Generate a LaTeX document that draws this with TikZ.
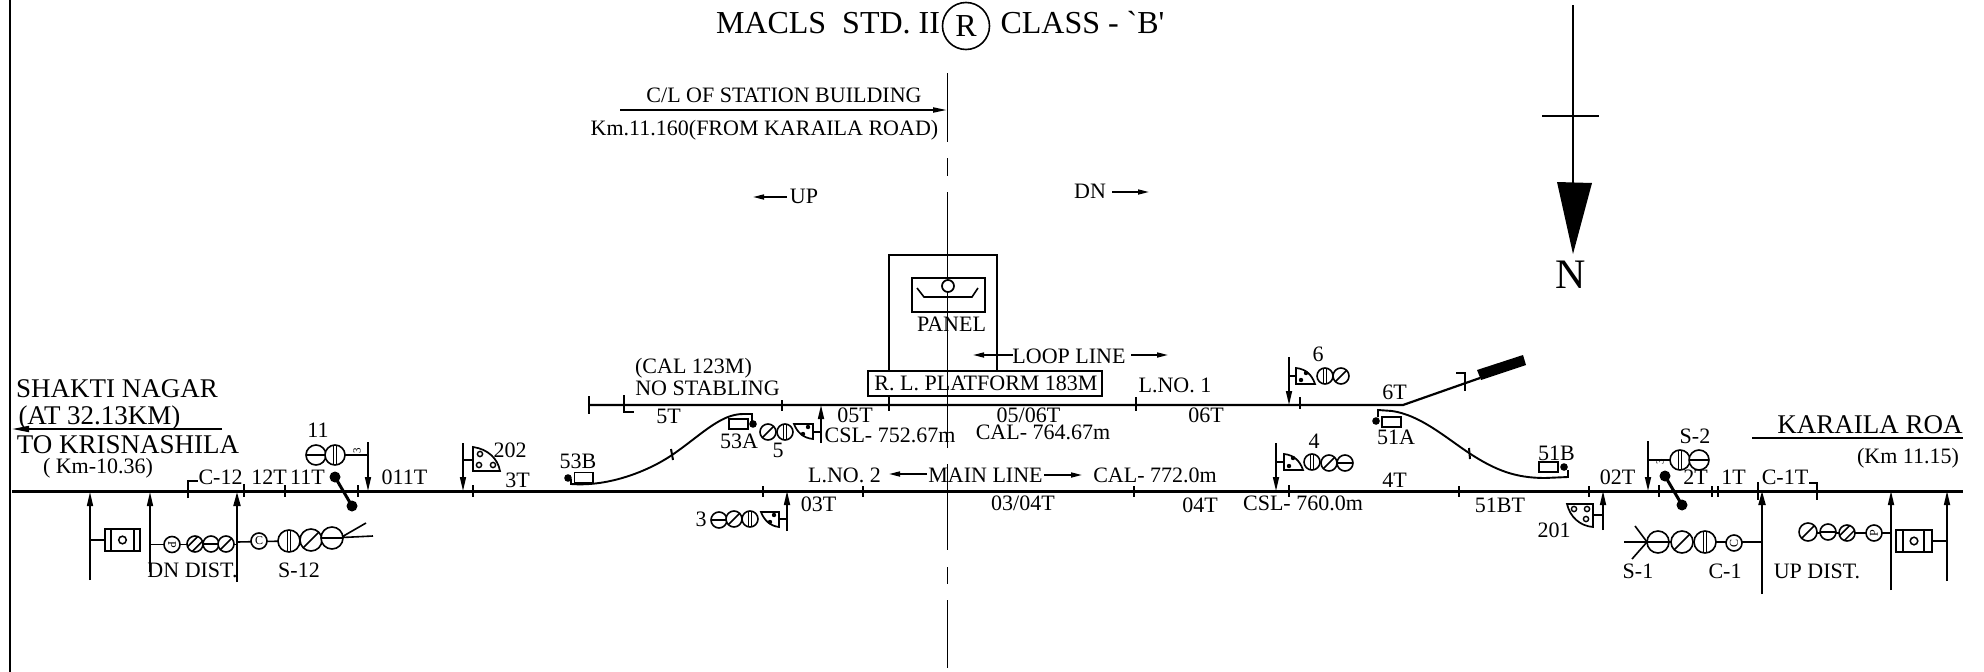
\documentclass[tikz,border=0pt]{standalone}
\usepackage{fontspec}
\setmainfont{Liberation Serif}
\newfontfamily\plainf{Liberation Serif}
\usetikzlibrary{arrows.meta}
\tikzset{
  txt/.style={anchor=base,inner sep=0pt,outer sep=0pt,text=black},
  main track/.style={line width=3pt},
  loop track/.style={line width=2.2pt},
  thin line/.style={line width=1.6pt},
  cl/.style={line width=1.9pt},
  tick/.style={line width=2pt},
  heavy tick/.style={line width=2.8pt},
  post/.style={line width=1.6pt,-{Triangle[length=14pt,width=6pt]}},
  heavy post/.style={line width=2pt,-{Triangle[length=14pt,width=7pt]}},
  smallarr/.style={line width=1.6pt,-{Triangle[length=11pt,width=5pt]}},
  lamp/.style={line width=1.6pt,fill=white},
  bits/.style={line width=1.5pt},
  block/.style={line width=1.7pt,fill=white},
  shunt/.style={line width=3pt},
}
\newcommand{\lbl}[5]{\node[txt,font=\plainf\fontsize{#4}{#4}\selectfont] (#1) at (#2,#3) {#5};}
% lamps: x y r
\newcommand{\lH}[3]{\draw[lamp] (#1,#2) circle[radius=#3]; \draw[bits] (#1-#3,#2) -- (#1+#3,#2);}
\newcommand{\lV}[3]{\draw[lamp] (#1,#2) circle[radius=#3]; \draw[bits] (#1-1.6,#2-#3) -- (#1-1.6,#2+#3) (#1+1.6,#2-#3) -- (#1+1.6,#2+#3);}
\newcommand{\lS}[3]{\draw[lamp] (#1,#2) circle[radius=#3]; \draw[bits] (#1-0.7*#3,#2+0.7*#3) -- (#1+0.7*#3,#2-0.7*#3);}
\newcommand{\lD}[3]{\draw[lamp] (#1,#2) circle[radius=#3]; \draw[bits] (#1-0.9*#3,#2+0.3*#3) -- (#1+0.3*#3,#2-0.9*#3) (#1-0.3*#3,#2+0.9*#3) -- (#1+0.9*#3,#2-0.3*#3);}
\newcommand{\lLetter}[5]{\draw[lamp] (#1,#2) circle[radius=#3]; \node[inner sep=0pt,rotate=#5,font=\plainf\fontsize{12}{12}\selectfont] at (#1,#2) {#4};}
\newcommand{\dotm}[2]{\fill (#1,#2) circle[radius=3.8];}
\newcommand{\dotshunt}[2]{\fill (#1,#2) circle[radius=5.5];}
\newcommand{\holes}[2]{\draw[line width=1.4pt] (#1,#2) circle[radius=2.6];}
\begin{document}
\begin{tikzpicture}[x=1pt,y=-1pt]
\useasboundingbox (0,0) rectangle (1984,672);
\fill[white] (0,0) rectangle (1984,672);
% border
\draw[line width=2pt] (10,0) -- (10,672);
% title
\lbl{titleA}{828}{33}{32}{MACLS\ \ STD. II}
\node[draw,circle,line width=1.6pt,minimum size=47pt,inner sep=0pt,font=\plainf\fontsize{32}{32}\selectfont] (titleR) at (966,26) {R};
\lbl{titleB}{1082.5}{33}{32}{CLASS - `B'}
% north
\coordinate (nTop) at (1573,5);
\coordinate (nBase) at (1573,183);
\draw[line width=1.7pt] (nTop) -- (nBase);
\draw[line width=1.7pt] (1542,116) -- (1599,116);
\fill (1557,182) -- (1592,183) -- (1573,254) -- cycle;
\lbl{north}{1571}{288}{42}{N}
% centre line
\draw[cl] (947.5,73) -- (947.5,142) (947.5,158) -- (947.5,176) (947.5,192) -- (947.5,448) (947.5,464) -- (947.5,550) (947.5,567) -- (947.5,584) (947.5,600) -- (947.5,668);
% C/L labels
\lbl{clA}{784}{102}{22}{C/L OF STATION BUILDING}
\draw[line width=1.9pt,-{Triangle[length=14pt,width=5pt]}] (620,110) -- (947,110);
\lbl{clB}{764.5}{135}{22}{Km.11.160(FROM KARAILA ROAD)}
\lbl{up}{804}{203}{22}{UP}
\draw[smallarr] (787,197) -- (753,197);
\lbl{dn}{1090}{198}{22}{DN}
\draw[smallarr] (1112,192) -- (1149,192);
% panel
\draw[line width=1.7pt] (889,371) -- (889,255) -- (997,255) -- (997,371);
\draw[line width=1.7pt] (912,278) rectangle (985,312);
\draw[line width=1.7pt,fill=white] (948,286) circle[radius=6];
\draw[line width=1.6pt] (917,288) -- (924,297) -- (972,297) -- (978,288);
\lbl{panel}{951.5}{331}{22}{PANEL}
\draw[line width=1.7pt] (868,371) rectangle (1102,396);
\lbl{plat}{986}{390}{22}{R. L. PLATFORM 183M}
\lbl{loop}{1069}{363}{22}{LOOP LINE}
\draw[smallarr] (1013,355) -- (973,355);
\draw[smallarr] (1131,355) -- (1168,355);
% tracks
\draw[main track] (12,491) -- (1963,491);
\draw[loop track] (589,405) -- (1403,405) -- (1480,378);
\fill (1477,370) -- (1523,355) -- (1526,365) -- (1481,380) -- cycle;
% ---- left end
\lbl{sn1}{117}{397}{27}{SHAKTI NAGAR}
\lbl{sn2}{99.5}{424}{27}{(AT 32.13KM)}
\draw[line width=1.8pt,-{Triangle[length=17pt,width=6pt]}] (222,429) -- (12,429);
\lbl{sn3}{128}{453}{27}{TO KRISNASHILA}
\lbl{sn4}{98}{473}{22}{( Km-10.36)}
% left posts and box
\draw[post] (90,580) -- (90,492);
\draw[post] (150,572) -- (150,492);
\draw[heavy post] (237,582) -- (237,492);
\draw[thin line] (90,540) -- (105,540);
\draw[block] (105,529) rectangle (140,551);
\draw[thin line] (111,529) -- (111,551) (134,529) -- (134,551);
\draw[line width=1.5pt] (122.5,540) circle[radius=3.8];
% DN DIST head
\draw[thin line] (150,544.5) -- (237,544.5);
\lLetter{172}{544.5}{8}{P}{-90}
\lD{195}{544}{8}
\lH{211}{544}{8}
\lS{226}{544}{8}
\lbl{dndist}{192.5}{577}{22}{DN DIST.}
% S-12 head
\draw[thin line] (237,542) -- (290,541);
\draw[thin line] (332,538) -- (373,536) (340,538) -- (366,523);
\lLetter{259}{541}{8}{C}{0}
\lV{289}{541}{11}
\lS{311}{540}{11}
\lH{332}{538}{11}
\lbl{s12}{299}{577}{22}{S-12}
% sig 11
\draw[post] (368,442) -- (368,491);
\draw[thin line] (335,455) -- (368,455);
\lH{316}{455}{10}
\lV{335}{455}{10}
\node[inner sep=0pt,rotate=90,font=\plainf\fontsize{11}{11}\selectfont] (m11) at (357,451) {3};
\lbl{n11}{318}{437}{22}{11}
\draw[shunt] (335,477) -- (352,506);
\dotshunt{335}{477}\dotshunt{352}{506}
% labels along main left
\draw[tick] (188,498) -- (188,481) -- (198,481);
\lbl{c12}{220.5}{484}{22}{C-12}
\draw[heavy tick] (244,484) -- (244,497);
\lbl{t12}{269}{484}{22}{12T}
\draw[tick] (285,485) -- (285,497);
\lbl{t11}{307.5}{484}{22}{11T}
\draw[tick] (358,485) -- (358,497);
\lbl{t011}{404.5}{484}{22}{011T}
% sig 202
\draw[post] (463,443) -- (463,491);
\draw[thin line] (463,460) -- (473,460);
\draw[block] (473,447) .. controls (488,449) and (498,459) .. (500,471) -- (473,471) -- cycle;
\holes{480}{454}\holes{479}{465}\holes{493}{465}
\lbl{n202}{510}{457}{22}{202}
\draw[tick] (473,485) -- (473,497);
\lbl{t3}{517.5}{487}{22}{3T}
% loop left
\draw[tick] (589,396) -- (589,414);
\draw[heavy tick] (624,395) -- (624,412) -- (634,412);
\lbl{cal123}{693.5}{373}{22}{(CAL 123M)}
\lbl{nostab}{707.5}{395}{22}{NO STABLING}
\draw[tick] (782,400) -- (782,411);
\lbl{t5}{668.5}{423}{22}{5T}
% crossover 53
\draw[line width=1.9pt] (571,479) -- (571,484) .. controls (610,487) and (650,470) .. (672,455) .. controls (700,436) and (720,414) .. (743,414) -- (752,414) -- (752,423);
\draw[tick] (671,449) -- (673,460);
\dotm{568}{478}\dotm{753}{424}
\draw[block] (574.5,472.5) rectangle (593,483);
\draw[block] (729,419) rectangle (748,429);
\lbl{l53b}{578}{468}{22}{53B}
\lbl{l53a}{739}{448}{22}{53A}
\lbl{n5}{778}{457}{22}{5}
% sig 5
\draw[post] (821,443) -- (821,405);
\draw[thin line] (813,432) -- (821,432);
\lS{768}{432}{8}
\lV{785}{432}{8}
\draw[block] (794,424) -- (813,424) -- (813,439) .. controls (803,438) and (797,432) .. (794,424) -- cycle;
\fill (808,427) circle[radius=2.2] (803,434) circle[radius=2.2];
\lbl{csl1}{890}{442}{22}{CSL- 752.67m}
\lbl{t05}{855}{422}{22}{05T}
\draw[tick] (889,397) -- (889,411);
% main centre labels
\lbl{lno2}{844.5}{482}{22}{L.NO. 2}
\draw[smallarr] (927,474) -- (889,474);
\lbl{mainl}{985.5}{482}{22}{MAIN LINE}
\draw[smallarr] (1044,475) -- (1082,475);
\lbl{cal772}{1155}{482}{22}{CAL- 772.0m}
\draw[tick] (763,486) -- (763,497);
\draw[tick] (863,486) -- (863,497);
\draw[tick] (1134,486) -- (1134,497);
\lbl{t03}{818.5}{511}{22}{03T}
\lbl{t0304}{1023}{510}{22}{03/04T}
\lbl{t04}{1200}{512}{22}{04T}
% sig 3
\lbl{n3}{701}{526}{22}{3}
\draw[post] (787,531) -- (787,491);
\draw[thin line] (779,519) -- (787,519);
\lH{719}{520}{8}
\lS{734}{519}{8}
\lV{750}{519}{8}
\draw[block] (761,512) -- (779,512) -- (779,527) .. controls (770,526) and (764,520) .. (761,512) -- cycle;
\fill (774,515) circle[radius=2.2] (770,522) circle[radius=2.2];
% loop centre labels
\lbl{t0506}{1028.5}{422}{22}{05/06T}
\lbl{cal764}{1043}{439}{22}{CAL- 764.67m}
\draw[tick] (1136,397) -- (1136,411);
\lbl{lno1}{1175}{392}{22}{L.NO. 1}
\lbl{t06}{1206}{422}{22}{06T}
% sig 6
\draw[post] (1289,357) -- (1289,405);
\draw[thin line] (1289,376) -- (1296,376);
\draw[tick] (1300,397) -- (1300,409);
\draw[block] (1296,368) .. controls (1306,369) and (1312,375) .. (1315,384) -- (1296,384) -- cycle;
\fill (1306,373) circle[radius=2.2] (1301,380) circle[radius=2.2];
\lV{1325}{376}{8}
\lS{1341}{376}{8}
\lbl{n6}{1318}{361}{22}{6}
\lbl{t6}{1394.5}{399}{22}{6T}
% stop on siding
\draw[heavy tick] (1456,373) -- (1465,373) -- (1465,391);
% crossover 51
\draw[line width=1.9pt] (1378,417) -- (1378,410) -- (1392,411) .. controls (1420,415) and (1445,437) .. (1469,453) .. controls (1495,470) and (1515,478) .. (1545,478) -- (1568,477) -- (1568,470);
\draw[tick] (1469,448) -- (1470,459);
\dotm{1376}{421}\dotm{1564}{467}
\draw[block] (1382,417) rectangle (1401,427);
\draw[block] (1539,462) rectangle (1558,472);
\lbl{l51a}{1396}{444}{22}{51A}
\lbl{l51b}{1556.5}{460}{22}{51B}
% sig 4
\draw[post] (1276,443) -- (1276,491);
\draw[thin line] (1276,462) -- (1284,462);
\draw[block] (1284,454) .. controls (1294,455) and (1300,461) .. (1303,470) -- (1284,470) -- cycle;
\fill (1293,458) circle[radius=2.2] (1289,466) circle[radius=2.2];
\lV{1312}{462}{8}
\lS{1329}{463}{8}
\lH{1345}{463}{8}
\lbl{n4}{1314}{448}{22}{4}
\draw[tick] (1289,485) -- (1289,497);
\lbl{t4}{1394.5}{487}{22}{4T}
\lbl{csl2}{1303}{510}{22}{CSL- 760.0m}
\draw[tick] (1459,486) -- (1459,497);
\lbl{t51bt}{1500}{512}{22}{51BT}
\draw[tick] (1589,486) -- (1589,497);
% sig 201
\draw[post] (1603,530) -- (1603,491);
\draw[thin line] (1593,515) -- (1603,515);
\draw[block] (1567,504) -- (1593,504) -- (1593,527) .. controls (1580,526) and (1570,517) .. (1567,504) -- cycle;
\holes{1574}{509}\holes{1587}{509}\holes{1586}{519}
\lbl{n201}{1554}{537}{22}{201}
\lbl{t02}{1617.5}{484}{22}{02T}
% S-2
\draw[post] (1648,441) -- (1648,491);
\draw[thin line] (1648,460) -- (1671,460);
\node[inner sep=0pt,rotate=90,font=\plainf\fontsize{11}{11}\selectfont] (m2) at (1660,462) {3};
\lV{1680}{460}{10}
\lH{1699}{460}{10}
\lbl{s2}{1695}{443}{22}{S-2}
\draw[tick] (1659,485) -- (1659,497);
\draw[shunt] (1665,476) -- (1682,505);
\dotshunt{1665}{476}\dotshunt{1682}{505}
\lbl{t2}{1695.5}{484}{22}{2T}
\draw[tick] (1712,486) -- (1712,497) (1718,486) -- (1718,497);
\lbl{t1}{1733.5}{484}{22}{1T}
\draw[tick] (1758,482) -- (1758,500);
\draw[heavy post] (1762,594) -- (1762,491);
\lbl{c1t}{1785}{484}{22}{C-1T}
\draw[tick] (1809,483) -- (1817,483) -- (1817,500);
% S-1 head
\draw[thin line] (1624,542) -- (1762,542);
\draw[thin line] (1635,526) -- (1647,542) -- (1632,559);
\lH{1658}{542}{11}
\lS{1682}{542}{11}
\lV{1705}{542}{11}
\lLetter{1734}{543}{8}{C}{90}
\lbl{s1}{1638}{578}{22}{S-1}
\lbl{c1}{1725}{578}{22}{C-1}
\lbl{updist}{1817}{578}{22}{UP DIST.}
% right end
\lbl{kr}{1870}{433}{27}{KARAILA ROA}
\draw[line width=1.9pt] (1752,438) -- (1963,438);
\lbl{km}{1908}{463}{22}{(Km 11.15)}
\draw[post] (1891,590) -- (1891,491);
\draw[post] (1947,581) -- (1947,491);
\draw[thin line] (1800,533) -- (1891,533);
\lS{1808}{532}{9}
\lH{1828}{532}{8}
\lD{1847}{533}{8}
\lLetter{1874}{533}{8}{P}{90}
\draw[thin line] (1932,541) -- (1947,541);
\draw[block] (1896,530) rectangle (1932,552);
\draw[thin line] (1903,530) -- (1903,552) (1924,530) -- (1924,552);
\draw[line width=1.5pt] (1914,541) circle[radius=3.8];
\end{tikzpicture}
\end{document}
